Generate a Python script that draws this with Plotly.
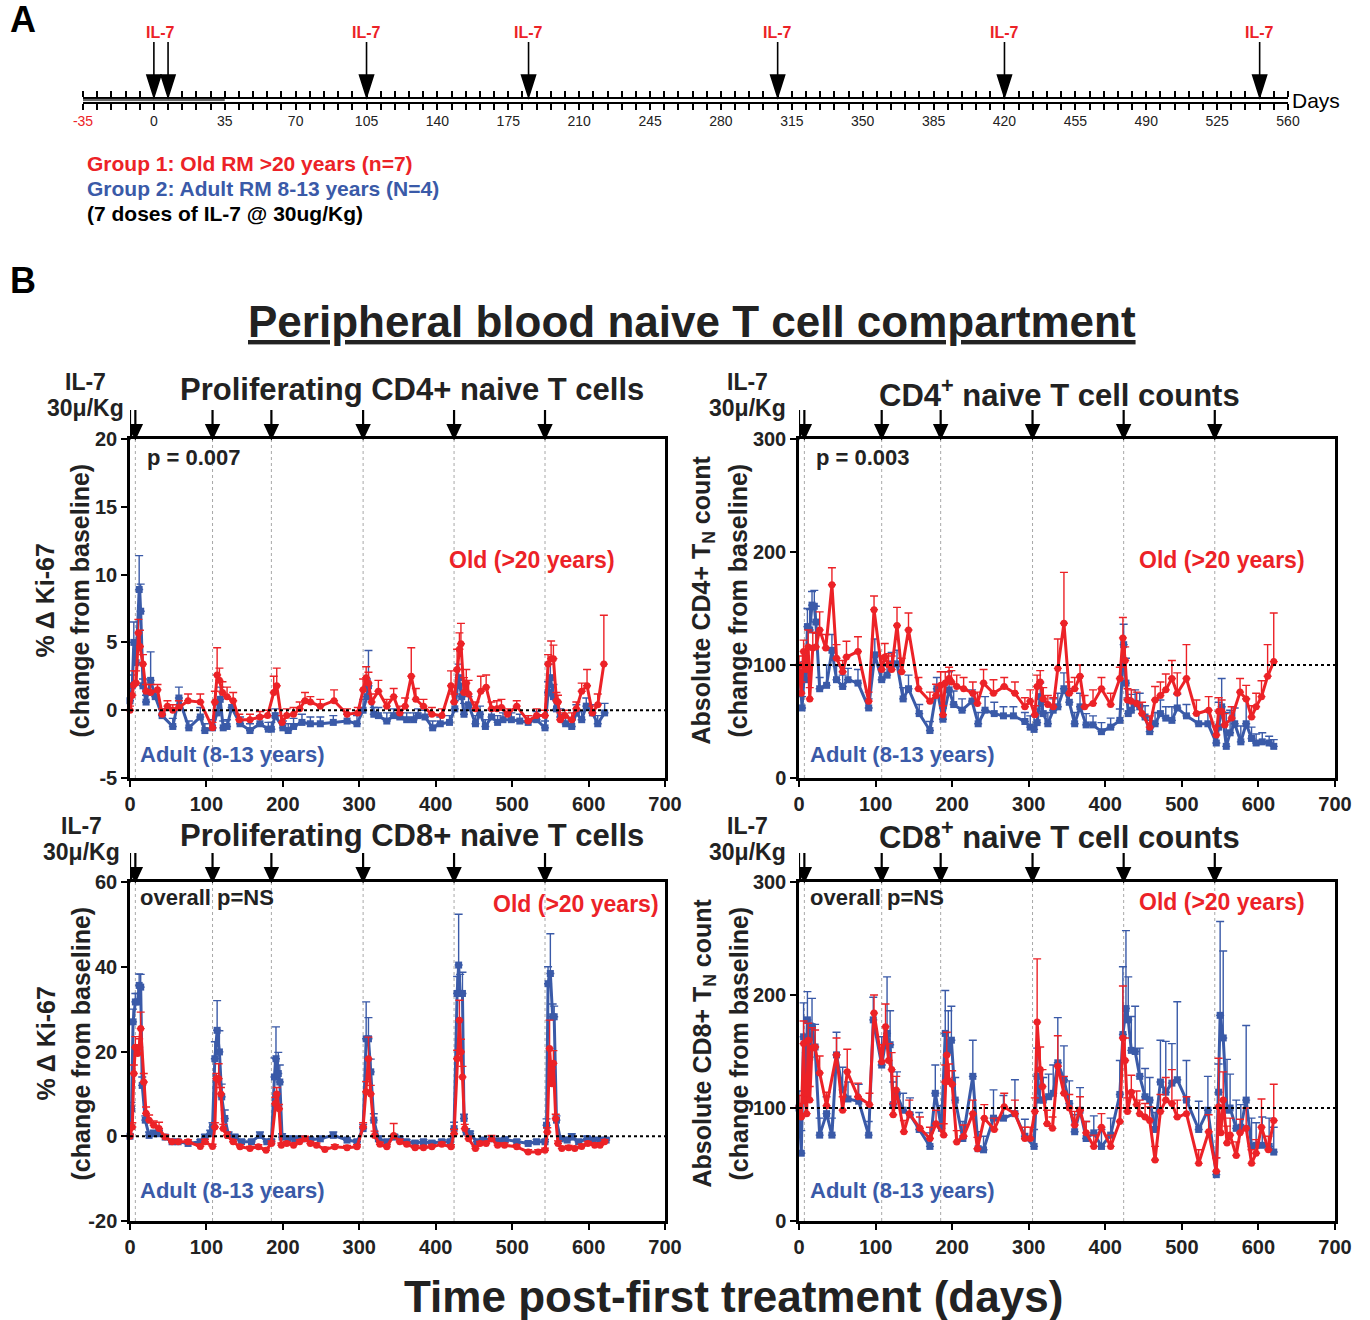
import plotly.graph_objects as go

# ---------------- DATA ----------------
# IL-7 dosing schedule (panel A timeline) and dose days marked in panel B
schedule_days = [0, 7, 105, 185, 308, 420, 546]
dose_days = [0, 7, 108, 185, 305, 424, 543]
baseline_period = [-35, 35]
timeline_ticks = list(range(-35, 561, 7))
timeline_labels = [str(d) if d % 35 == 0 else "" for d in timeline_ticks]

# Proliferating CD4+ naive T cells (% change Ki-67)
tl_old_day = [0, 3, 5, 8, 11, 13, 17, 21, 27, 36, 42, 49, 56, 64, 76, 92, 108, 111, 114, 117,
              121, 127, 135, 143, 157, 170, 180, 188, 192, 199, 205, 214, 222, 229, 236, 249, 267, 284, 298, 305,
              309, 312, 316, 325, 336, 345, 353, 360, 368, 374, 384, 395, 408, 420, 424, 428, 431, 433, 437, 440,
              443, 452, 459, 466, 473, 480, 486, 494, 506, 521, 532, 543, 547, 551, 554, 558, 560, 563, 569, 578,
              584, 591, 598, 605, 612, 620]
tl_old_val = [0.0, 1.1, 1.9, 2.0, 5.7, 4.7, 3.4, 1.4, 1.3, 1.5, -0.3, 0.3, 0.0, 0.2, 0.7, 0.6, -1.3, 0.6, 2.6, 2.2,
              1.3, 1.0, 0.7, -0.7, -0.7, -0.5, -0.4, 1.3, 1.8, -0.9, -0.4, -0.3, 0.1, 0.7, 0.6, 0.3, 0.7, -0.3, -0.2, 1.5,
              2.4, 2.0, 0.6, 1.4, 0.3, 1.0, -0.2, 0.3, 2.5, 0.8, 0.3, -0.3, -0.4, 1.8, 0.6, 3.0, 4.5, 4.9, 1.3, 2.0,
              1.2, 0.1, 1.4, 1.7, 0.1, 0.1, 0.2, -0.3, 0.3, -0.8, -0.4, -0.4, 3.4, 3.8, 3.8, 0.7, 0.6, -0.7, -0.4, -0.7,
              0.1, 1.4, 1.8, -0.2, 0.4, 3.4]
tl_old_err = [0.3, 0.6, 1.0, 0.9, 1.0, 1.2, 0.7, 0.5, 0.6, 0.4, 0.4, 0.4, 0.4, 0.5, 0.5, 0.6, 0.4, 0.8, 2.0, 0.9,
              0.8, 0.7, 0.6, 0.4, 0.4, 0.4, 0.4, 1.2, 1.3, 0.5, 0.5, 0.5, 0.5, 0.6, 0.4, 0.5, 0.8, 0.4, 0.4, 0.8,
              0.8, 0.8, 0.6, 0.8, 0.5, 0.6, 0.5, 0.6, 2.1, 0.8, 0.5, 0.5, 0.5, 1.1, 0.6, 1.5, 1.2, 1.5, 1.1, 1.0,
              1.0, 0.5, 1.1, 0.9, 0.5, 0.6, 0.6, 0.4, 0.4, 0.4, 0.5, 0.4, 0.7, 1.3, 1.0, 0.6, 0.5, 0.5, 0.4, 0.5,
              0.5, 0.6, 1.2, 0.5, 0.8, 3.6]

tl_adult_day = [0, 3, 5, 8, 12, 14, 17, 21, 27, 33, 42, 56, 64, 77, 92, 98, 108, 114, 118, 122,
                127, 133, 144, 157, 170, 181, 185, 190, 200, 207, 214, 225, 236, 249, 266, 284, 297, 305, 310, 312,
                319, 325, 336, 345, 353, 362, 371, 377, 386, 396, 406, 418, 425, 430, 434, 437, 443, 452, 458, 465,
                473, 481, 488, 499, 510, 521, 532, 543, 547, 550, 554, 558, 563, 570, 578, 584, 591, 597, 605, 612,
                621]
tl_adult_val = [0.7, 1.8, 5.0, 3.5, 8.9, 7.3, 1.8, 0.6, 2.2, 1.0, -0.4, -1.2, 0.9, -1.3, -0.5, -1.5, -1.3, -0.2, 0.8, -1.3,
                -1.2, 0.2, -1.0, -1.5, -1.0, -1.4, -1.4, -0.4, -1.3, -1.5, -1.2, -0.9, -1.0, -1.0, -0.9, -0.8, -1.0, 0.0, 1.0, 1.8,
                -0.3, -0.4, -0.8, -0.4, -0.5, -0.7, -0.7, -0.4, -0.5, -1.3, -1.0, -0.9, 0.1, 2.4, 1.0, -0.3, 0.4, -1.0, -0.3, -1.2,
                -0.5, -0.9, -0.7, -0.7, -0.8, -0.9, -0.7, -1.3, 1.3, 2.4, 1.0, 0.1, -0.5, -1.0, -1.2, -0.2, -0.7, 0.3, -0.2, -1.0,
                -0.2]
tl_adult_err = [0.6, 0.8, 1.5, 1.0, 2.5, 2.0, 0.5, 0.5, 2.1, 0.5, 0.5, 0.6, 0.8, 0.5, 0.7, 0.5, 0.6, 0.6, 0.9, 0.5,
                0.5, 0.6, 0.5, 0.5, 0.6, 0.5, 0.5, 0.5, 0.5, 0.5, 0.6, 0.6, 0.5, 0.5, 0.5, 0.5, 0.6, 0.8, 1.3, 2.6,
                0.5, 0.6, 0.6, 0.5, 0.5, 0.5, 0.5, 0.5, 0.5, 0.5, 0.5, 0.5, 0.6, 1.0, 1.0, 0.8, 0.6, 0.6, 0.6, 0.5,
                0.5, 0.5, 0.5, 0.5, 0.5, 0.5, 0.6, 0.5, 0.8, 1.0, 0.9, 0.6, 0.6, 0.5, 0.5, 0.6, 0.6, 0.6, 0.6, 0.6,
                0.7]

# CD4+ naive T cell counts (% of baseline)
tr_old_day = [0, 3, 6, 9, 12, 14, 18, 22, 27, 35, 43, 49, 57, 62, 77, 91, 98, 108, 112, 117,
              121, 128, 134, 143, 156, 171, 179, 185, 188, 191, 196, 199, 206, 215, 227, 233, 241, 254, 268, 282,
              295, 302, 308, 311, 315, 319, 325, 332, 338, 346, 353, 360, 367, 373, 384, 395, 407, 419, 423, 426,
              429, 434, 441, 448, 458, 465, 472, 479, 487, 494, 506, 519, 535, 545, 548, 552, 556, 565, 576, 584,
              591, 597, 604, 612, 620]
tr_old_val = [100, 75, 112, 96, 116, 70, 115, 116, 131, 115, 171, 106, 94, 107, 112, 68, 149, 96, 107, 100,
              96, 135, 94, 131, 79, 68, 73, 82, 56, 84, 88, 85, 81, 79, 75, 66, 84, 75, 81, 75,
              63, 68, 56, 81, 85, 70, 65, 63, 97, 137, 75, 79, 90, 63, 66, 79, 65, 88, 124, 104,
              69, 68, 66, 57, 45, 69, 73, 78, 88, 75, 88, 57, 60, 38, 59, 59, 47, 53, 76, 70,
              54, 63, 72, 90, 103]
tr_old_err = [8, 10, 10, 12, 15, 10, 14, 12, 16, 12, 15, 12, 10, 14, 13, 8, 12, 12, 12, 10,
              12, 16, 12, 15, 10, 8, 10, 12, 8, 10, 10, 10, 10, 10, 10, 10, 12, 12, 8, 10,
              8, 10, 8, 10, 10, 10, 8, 8, 26, 45, 10, 10, 10, 10, 12, 10, 10, 10, 18, 12,
              10, 10, 10, 10, 10, 12, 12, 14, 16, 18, 30, 12, 12, 8, 12, 10, 10, 10, 12, 12,
              10, 12, 14, 28, 43]

tr_adult_day = [1, 4, 7, 9, 11, 14, 17, 20, 22, 27, 36, 43, 49, 57, 64, 77, 91, 99, 108, 115,
                121, 128, 136, 143, 157, 171, 180, 188, 196, 202, 213, 226, 234, 243, 255, 267, 280, 295, 302, 307,
                311, 315, 319, 325, 332, 338, 346, 353, 360, 367, 375, 384, 395, 407, 419, 424, 427, 430, 434, 439,
                445, 452, 458, 465, 472, 479, 487, 494, 506, 522, 534, 545, 548, 552, 558, 563, 569, 577, 584, 591,
                597, 605, 614, 620]
tr_adult_val = [93, 62, 93, 87, 134, 131, 153, 152, 138, 79, 82, 113, 87, 81, 87, 84, 62, 109, 87, 91,
                101, 101, 70, 79, 57, 42, 79, 52, 78, 65, 60, 68, 48, 60, 57, 55, 55, 50, 45, 43,
                49, 72, 57, 48, 60, 63, 79, 67, 48, 63, 47, 47, 41, 45, 51, 118, 84, 57, 60, 66,
                63, 54, 41, 48, 57, 53, 51, 62, 55, 48, 48, 31, 45, 63, 28, 40, 48, 32, 48, 35,
                31, 32, 31, 28]
tr_adult_err = [8, 10, 10, 12, 16, 18, 12, 14, 14, 10, 18, 14, 12, 10, 10, 12, 8, 14, 12, 10,
                10, 12, 10, 12, 8, 8, 10, 10, 16, 12, 10, 10, 10, 12, 10, 8, 8, 8, 10, 12,
                12, 12, 10, 10, 10, 12, 14, 12, 10, 12, 10, 8, 8, 8, 10, 18, 22, 14, 14, 12,
                12, 10, 10, 10, 12, 10, 12, 12, 10, 10, 12, 14, 22, 25, 30, 20, 14, 14, 22, 10,
                8, 8, 6, 6]

# Proliferating CD8+ naive T cells (% change Ki-67)
bl_old_day = [0, 3, 5, 7, 10, 12, 14, 18, 21, 25, 31, 38, 46, 55, 63, 76, 92, 98, 108, 111,
              113, 116, 119, 122, 127, 135, 144, 157, 168, 178, 185, 190, 192, 195, 198, 205, 214, 222, 229, 236,
              244, 255, 268, 284, 297, 305, 309, 312, 315, 320, 327, 336, 345, 353, 362, 373, 384, 395, 408, 420,
              424, 428, 431, 433, 435, 438, 443, 452, 458, 466, 473, 481, 490, 506, 521, 534, 543, 546, 549, 552,
              554, 557, 560, 565, 574, 582, 591, 599, 608, 615, 621]
bl_old_val = [0.0, 2.2, 14.8, 21.0, 19.5, 21.0, 25.4, 12.8, 5.4, 3.8, 2.6, 1.8, -0.2, -1.3, -1.3, -1.3, -2.4, -1.3, -2.4, 2.2,
              13.6, 13.6, 10.0, 1.8, 0.2, -1.3, -2.5, -2.9, -2.5, -3.3, -1.7, 7.7, 10.0, 6.5, -2.1, -1.7, -2.1, -1.3, -0.6, -1.7,
              -2.1, -3.1, -2.5, -2.7, -2.5, 2.2, 10.5, 18.3, 10.0, 0.2, -1.9, -2.5, 0.2, -1.3, -1.9, -2.7, -2.7, -2.5, -1.9, -2.5,
              0.6, 18.3, 27.4, 19.9, 14.0, 1.8, -0.6, -2.9, -1.7, -1.7, -0.6, -2.1, -2.1, -2.5, -3.7, -3.7, -3.3, 1.0, 20.7, 12.4,
              17.2, 4.2, -1.7, -2.9, -2.7, -2.9, -2.4, -1.7, -2.1, -2.1, -1.3]
bl_old_err = [0.5, 1.0, 2.0, 2.5, 2.0, 2.0, 3.9, 2.0, 1.5, 1.2, 1.0, 1.5, 0.5, 0.5, 0.5, 0.5, 0.5, 0.6, 0.5, 1.0,
              1.2, 3.5, 1.5, 1.0, 0.8, 0.5, 0.5, 0.5, 0.5, 0.5, 0.6, 1.5, 1.5, 1.0, 0.5, 0.5, 0.5, 0.5, 0.6, 0.5,
              0.5, 0.5, 0.5, 0.5, 0.5, 1.0, 2.4, 5.1, 2.0, 1.0, 0.5, 0.5, 2.8, 0.6, 0.5, 0.5, 0.5, 0.5, 0.5, 0.5,
              1.0, 2.0, 4.7, 3.0, 2.5, 1.0, 0.6, 0.5, 0.5, 0.5, 0.8, 0.5, 0.5, 0.5, 0.5, 0.5, 0.5, 1.0, 6.7, 3.6,
              3.0, 1.0, 0.6, 0.5, 0.5, 0.5, 0.5, 0.5, 0.5, 0.5, 0.5]

bl_adult_day = [0, 2, 4, 7, 10, 12, 14, 16, 20, 25, 31, 38, 46, 55, 63, 76, 92, 98, 105, 108,
                111, 114, 117, 120, 124, 129, 137, 146, 159, 170, 179, 185, 189, 191, 194, 196, 199, 207, 216, 225,
                236, 249, 266, 284, 297, 305, 309, 312, 315, 319, 325, 336, 346, 353, 362, 373, 384, 395, 408, 419,
                424, 428, 430, 432, 435, 437, 440, 445, 454, 462, 473, 482, 491, 506, 521, 532, 543, 545, 547, 550,
                553, 555, 558, 563, 572, 578, 587, 598, 606, 615, 623]
bl_adult_val = [0.0, 6.5, 27.0, 31.7, 31.7, 35.6, 35.2, 12.0, 3.8, 0.2, 0.6, 0.6, -0.2, -1.3, -1.3, -1.7, -1.3, -0.2, 0.6, 2.2,
                18.3, 25.0, 19.9, 9.3, 4.2, 0.2, -0.2, -1.3, -1.3, 0.2, -1.3, -1.3, 14.0, 18.3, 14.8, 12.8, -0.2, -0.6, -0.6, -0.6,
                -0.8, -0.6, 0.2, -0.9, -1.3, 1.8, 23.0, 23.0, 15.2, 3.8, -0.6, -1.3, -0.2, -0.6, -1.3, -1.6, -1.3, -1.6, -1.3, -1.3,
                1.8, 33.7, 40.4, 33.7, 33.7, 4.2, 1.0, 0.6, -1.3, -0.9, -0.6, -1.1, -0.8, -1.3, -1.7, -1.3, -1.3, 2.6, 36.0, 38.4,
                28.2, 28.2, 3.8, -0.6, -0.9, -0.2, -1.3, -0.6, -0.9, -0.9, -0.9]
bl_adult_err = [0.5, 1.5, 3.0, 2.0, 2.0, 2.7, 3.0, 2.0, 1.0, 0.8, 0.8, 0.8, 0.5, 0.5, 0.5, 0.5, 0.5, 0.6, 0.8, 1.0,
                4.0, 7.0, 5.0, 3.0, 2.0, 0.8, 0.6, 0.5, 0.5, 0.8, 0.5, 0.6, 4.5, 7.5, 5.0, 4.0, 0.8, 0.6, 0.5, 0.5,
                0.5, 0.5, 0.8, 0.5, 0.5, 1.0, 8.7, 5.0, 3.0, 1.5, 0.6, 0.5, 0.6, 0.5, 0.5, 0.5, 0.5, 0.5, 0.5, 0.5,
                1.5, 4.0, 12.0, 4.5, 5.0, 1.0, 0.8, 0.6, 0.5, 0.5, 0.5, 0.5, 0.5, 0.5, 0.5, 0.5, 0.5, 1.5, 4.0, 9.4,
                3.0, 2.5, 1.0, 0.6, 0.6, 0.8, 0.5, 0.6, 0.5, 0.5, 0.5]

# CD8+ naive T cell counts (% of baseline)
br_old_day = [0, 3, 6, 8, 10, 12, 14, 17, 21, 27, 36, 49, 57, 63, 77, 92, 98, 108, 113, 117,
              121, 123, 127, 137, 144, 158, 171, 179, 189, 191, 193, 196, 200, 206, 215, 227, 233, 242, 255, 268,
              282, 295, 302, 308, 311, 315, 318, 324, 331, 338, 346, 353, 360, 367, 375, 385, 395, 407, 419, 423,
              426, 429, 434, 441, 445, 452, 458, 465, 472, 479, 487, 494, 506, 522, 535, 545, 548, 551, 554, 559,
              563, 571, 576, 584, 591, 597, 604, 613, 620]
br_old_val = [101, 92, 157, 107, 95, 160, 107, 153, 154, 131, 102, 147, 98, 132, 110, 103, 184, 141, 172, 142,
              134, 94, 116, 79, 95, 82, 73, 86, 76, 123, 147, 124, 121, 70, 75, 95, 64, 91, 81, 101,
              95, 73, 73, 97, 176, 134, 119, 86, 82, 137, 113, 100, 85, 98, 78, 66, 83, 66, 88, 162,
              142, 97, 114, 103, 95, 92, 89, 54, 97, 107, 104, 92, 95, 51, 79, 44, 101, 78, 107, 69,
              76, 58, 78, 82, 51, 60, 83, 63, 89]
br_old_err = [10, 12, 20, 15, 12, 15, 12, 18, 15, 15, 12, 15, 12, 20, 12, 10, 16, 15, 20, 15,
              15, 10, 12, 10, 12, 10, 10, 12, 10, 15, 20, 15, 12, 10, 10, 12, 10, 12, 10, 12,
              12, 10, 10, 12, 56, 20, 15, 12, 10, 27, 15, 12, 12, 12, 10, 10, 12, 10, 12, 46,
              20, 12, 15, 12, 12, 12, 12, 12, 15, 20, 30, 15, 15, 12, 15, 12, 43, 15, 25, 15,
              15, 12, 12, 18, 12, 12, 25, 12, 32]

br_adult_day = [0, 3, 6, 9, 11, 14, 17, 21, 27, 36, 43, 49, 57, 64, 78, 91, 97, 108, 115, 119,
                123, 128, 136, 145, 157, 171, 178, 186, 191, 195, 199, 204, 214, 227, 234, 241, 254, 267, 282, 295,
                307, 311, 315, 319, 326, 332, 338, 346, 353, 360, 367, 375, 385, 395, 407, 419, 423, 427, 430, 434,
                439, 445, 452, 458, 465, 472, 479, 487, 494, 506, 522, 534, 545, 548, 550, 554, 559, 563, 571, 577,
                584, 591, 597, 605, 614, 620]
br_adult_val = [100, 60, 163, 129, 178, 145, 172, 154, 76, 95, 76, 147, 116, 108, 106, 76, 178, 138, 166, 156,
                103, 112, 98, 94, 81, 66, 113, 82, 166, 151, 160, 107, 73, 128, 64, 63, 91, 91, 95, 75,
                66, 128, 107, 107, 110, 113, 140, 125, 104, 79, 98, 73, 78, 66, 76, 112, 165, 188, 178, 151,
                150, 128, 110, 107, 81, 123, 114, 122, 125, 107, 81, 98, 41, 114, 182, 162, 98, 100, 82, 83,
                107, 66, 67, 67, 66, 61]
br_adult_err = [15, 20, 30, 20, 25, 30, 25, 20, 15, 15, 15, 20, 20, 15, 15, 12, 20, 25, 50, 30,
                20, 20, 15, 15, 15, 12, 25, 20, 38, 35, 30, 20, 15, 32, 15, 12, 25, 20, 30, 15,
                15, 25, 20, 20, 20, 25, 40, 30, 20, 15, 20, 15, 15, 15, 15, 30, 60, 69, 38, 30,
                40, 25, 25, 20, 15, 37, 45, 35, 69, 35, 25, 30, 15, 25, 83, 77, 45, 30, 25, 20,
                66, 25, 20, 25, 25, 22]

for a, b, c in [(tl_old_day, tl_old_val, tl_old_err), (tl_adult_day, tl_adult_val, tl_adult_err),
                (tr_old_day, tr_old_val, tr_old_err), (tr_adult_day, tr_adult_val, tr_adult_err),
                (bl_old_day, bl_old_val, bl_old_err), (bl_adult_day, bl_adult_val, bl_adult_err),
                (br_old_day, br_old_val, br_old_err), (br_adult_day, br_adult_val, br_adult_err)]:
    assert len(a) == len(b) == len(c), (len(a), len(b), len(c))

# ---------------- STYLE / LAYOUT ----------------
W, H = 1370, 1320


def fx(p):
    return p / W


def fy(p):
    return 1 - p / H


RED = "#ec2227"
BLUE = "#3a5aa8"
INK = "#222222"
FONT = "Liberation Sans, Arial, Helvetica, sans-serif"

fig = go.Figure()
annotations = []
shapes = []
layout_axes = {}

panels = [
    dict(ax="", x0=130, x1=665, y0=439, y1=778, yr=[-5, 20], yt=[-5, 0, 5, 10, 15, 20], base=0,
         old=(tl_old_day, tl_old_val, tl_old_err), adult=(tl_adult_day, tl_adult_val, tl_adult_err),
         title="Proliferating CD4+ naive T cells", ytitle="% Δ Ki-67", ptxt="p = 0.007",
         tx=412, ty=390, lx=85, ly=382, old_y=560, old_x=617, ptx=145, pty=457, adult_x=138, adult_y=754),
    dict(ax="2", x0=799, x1=1335, y0=439, y1=778, yr=[0, 300], yt=[0, 100, 200, 300], base=100,
         old=(tr_old_day, tr_old_val, tr_old_err), adult=(tr_adult_day, tr_adult_val, tr_adult_err),
         title="CD4<sup>+</sup> naive T cell counts", ytitle="Absolute CD4+ T<sub>N</sub> count",
         ptxt="p = 0.003", tx=1059, ty=393, lx=747, ly=382, old_y=560, old_x=1307, ptx=814, pty=457,
         adult_x=808, adult_y=754),
    dict(ax="3", x0=130, x1=665, y0=882, y1=1221, yr=[-20, 60], yt=[-20, 0, 20, 40, 60], base=0,
         old=(bl_old_day, bl_old_val, bl_old_err), adult=(bl_adult_day, bl_adult_val, bl_adult_err),
         title="Proliferating CD8+ naive T cells", ytitle="% Δ Ki-67", ptxt="overall p=NS",
         tx=412, ty=835, lx=81, ly=826, old_y=904, old_x=661, ptx=138, pty=897, adult_x=138, adult_y=1190),
    dict(ax="4", x0=799, x1=1335, y0=882, y1=1221, yr=[0, 300], yt=[0, 100, 200, 300], base=100,
         old=(br_old_day, br_old_val, br_old_err), adult=(br_adult_day, br_adult_val, br_adult_err),
         title="CD8<sup>+</sup> naive T cell counts", ytitle="Absolute CD8+ T<sub>N</sub> count",
         ptxt="overall p=NS", tx=1059, ty=835, lx=747, ly=826, old_y=902, old_x=1307, ptx=808, pty=897,
         adult_x=808, adult_y=1190),
]

tickfont = dict(family=FONT, size=20, color=INK, weight="bold")

for p in panels:
    a = p["ax"]
    xa, ya = "x" + a, "y" + a
    layout_axes["xaxis" + a] = dict(domain=[fx(p["x0"]), fx(p["x1"])], range=[0, 700], anchor=ya,
                                    tickvals=list(range(0, 701, 100)), showline=True, linecolor="black",
                                    linewidth=2.5, mirror=True, ticks="outside", ticklen=6, tickwidth=2,
                                    tickcolor="black", tickfont=tickfont, showgrid=False, zeroline=False,
                                    automargin=False)
    layout_axes["yaxis" + a] = dict(domain=[fy(p["y1"]), fy(p["y0"])], range=p["yr"], anchor=xa,
                                    tickvals=p["yt"], ticktext=[str(v) for v in p["yt"]],
                                    showline=True, linecolor="black", linewidth=2.5,
                                    mirror=True, ticks="outside", ticklen=6, tickwidth=2, tickcolor="black",
                                    tickfont=tickfont, showgrid=False, zeroline=False, automargin=False)
    for key, color, sym in [("adult", BLUE, "square"), ("old", RED, "circle")]:
        d, v, e = p[key]
        fig.add_trace(go.Scatter(
            x=d, y=v, xaxis=xa, yaxis=ya, mode="lines+markers", cliponaxis=False,
            line=dict(color=color, width=3), marker=dict(symbol=sym, size=7, color=color),
            error_y=dict(type="data", array=e, arrayminus=[0] * len(e), symmetric=False,
                         color=color, thickness=1.4, width=4),
            showlegend=False, hoverinfo="skip"))
    # dotted baseline
    shapes.append(dict(type="line", xref=xa + " domain", yref=ya, x0=0, x1=1, y0=p["base"], y1=p["base"],
                       line=dict(color="black", width=2, dash="dot"), layer="above"))
    # vertical dose lines and arrows
    for dd in dose_days:
        if dd > 0:
            shapes.append(dict(type="line", xref=xa, yref=ya + " domain", x0=dd, x1=dd, y0=0, y1=1,
                               line=dict(color="#a8a8a8", width=1, dash="dot"), layer="below"))
        shapes.append(dict(type="path", xref=xa, xsizemode="pixel", xanchor=dd,
                           yref="paper", ysizemode="pixel", yanchor=fy(p["y0"] - 1),
                           path="M-6,13 L6,13 L0,0 Z M0,13 L0,28",
                           fillcolor="black", line=dict(color="black", width=2.2)))
    # titles
    annotations.append(dict(text="<b>" + p["title"] + "</b>", x=fx(p["tx"]), y=fy(p["ty"]),
                            font=dict(family=FONT, size=31, color=INK)))
    annotations.append(dict(text="<b>IL-7</b>", x=fx(p["lx"]), y=fy(p["ly"]),
                            font=dict(family=FONT, size=23, color=INK)))
    annotations.append(dict(text="<b>30μ/Kg</b>", x=fx(p["lx"]), y=fy(p["ly"] + 26),
                            font=dict(family=FONT, size=23, color=INK)))
    # y titles
    ymid = (p["y0"] + p["y1"]) / 2 - 8
    t1x = 45 if a in ("", "3") else 703
    annotations.append(dict(text="<b>" + p["ytitle"] + "</b>", x=fx(t1x), y=fy(ymid), textangle=-90,
                            font=dict(family=FONT, size=25, color=INK)))
    annotations.append(dict(text="<b>(change from baseline)</b>", x=fx(t1x + 35), y=fy(ymid), textangle=-90,
                            font=dict(family=FONT, size=25, color=INK)))
    # in-plot labels
    annotations.append(dict(text="<b>" + p["ptxt"] + "</b>", x=fx(p["ptx"]), y=fy(p["pty"]), xanchor="left",
                            font=dict(family=FONT, size=22, color=INK)))
    annotations.append(dict(text="<b>Old (>20 years)</b>", x=fx(p["old_x"]), y=fy(p["old_y"]), xanchor="right",
                            font=dict(family=FONT, size=23, color=RED)))
    annotations.append(dict(text="<b>Adult (8-13 years)</b>", x=fx(p["adult_x"]), y=fy(p["adult_y"]),
                            xanchor="left", font=dict(family=FONT, size=22, color=BLUE)))

# ---------------- Panel A timeline ----------------
tick_text = ["<span style='color:%s'>%s</span>" % (RED, t) if t == "-35" else t for t in timeline_labels]
layout_axes["xaxis5"] = dict(domain=[fx(83), fx(1288)], range=[-35, 560], anchor="y5",
                             tickvals=timeline_ticks, ticktext=tick_text, showline=True, linecolor="black",
                             linewidth=2, mirror="ticks", ticks="outside", ticklen=6, tickwidth=1.5,
                             tickcolor="black", tickfont=dict(family=FONT, size=14, color="#222"),
                             showgrid=False, zeroline=False, layer="below traces", automargin=False)
layout_axes["yaxis5"] = dict(domain=[fy(101.5), fy(98.5)], range=[0, 1], anchor="x5", visible=False)
fig.add_trace(go.Scatter(x=baseline_period, y=[0.5, 0.5], xaxis="x5", yaxis="y5", mode="lines",
                         line=dict(color="#6a6a6a", width=2.5), showlegend=False, hoverinfo="skip"))
for dd in schedule_days:
    shapes.append(dict(type="path", xref="x5", xsizemode="pixel", xanchor=dd, yref="paper",
                       ysizemode="pixel", yanchor=fy(97), path="M-7,22 L7,22 L0,0 Z M0,22 L0,55",
                       fillcolor="black", line=dict(color="black", width=1.6)))
# the two loading doses (days 0 and 7) share one label
label_days = [(schedule_days[0] + schedule_days[1]) / 2] + schedule_days[2:]
for dd in label_days:
    annotations.append(dict(text="<b>IL-7</b>", x=dd, xref="x5", y=fy(32),
                            font=dict(family=FONT, size=16, color=RED)))
annotations.append(dict(text="Days", x=fx(1290), y=fy(100), xanchor="left",
                        font=dict(family=FONT, size=21, color="black")))

annotations += [
    dict(text="<b>A</b>", x=fx(23), y=fy(20), font=dict(family=FONT, size=36, color="black")),
    dict(text="<b>B</b>", x=fx(23), y=fy(280), font=dict(family=FONT, size=36, color="black")),
    dict(text="<b>Group 1: Old RM >20 years (n=7)</b>", x=fx(85), y=fy(163), xanchor="left",
         font=dict(family=FONT, size=21, color=RED)),
    dict(text="<b>Group 2: Adult RM 8-13 years (N=4)</b>", x=fx(85), y=fy(188), xanchor="left",
         font=dict(family=FONT, size=21, color=BLUE)),
    dict(text="<b>(7 doses of IL-7 @ 30ug/Kg)</b>", x=fx(85), y=fy(213), xanchor="left",
         font=dict(family=FONT, size=21, color="black")),
    dict(text="<b><u>Peripheral blood naive T cell compartment</u></b>", x=fx(692), y=fy(322),
         font=dict(family=FONT, size=44, color=INK)),
    dict(text="<b>Time post-first treatment (days)</b>", x=fx(733), y=fy(1296),
         font=dict(family=FONT, size=44, color=INK)),
]
for an in annotations:
    an.setdefault("xref", "paper")
    an.setdefault("yref", "paper")
    an.setdefault("showarrow", False)
    an.setdefault("xanchor", "center")
    an.setdefault("yanchor", "middle")

fig.update_layout(width=W, height=H, margin=dict(l=0, r=0, t=0, b=0, pad=0, autoexpand=False),
                  paper_bgcolor="white", plot_bgcolor="white", showlegend=False,
                  annotations=annotations, shapes=shapes, font=dict(family=FONT), **layout_axes)

fig.write_html("out.html", config={"displayModeBar": False},
               post_script="document.body.style.margin='0';")
